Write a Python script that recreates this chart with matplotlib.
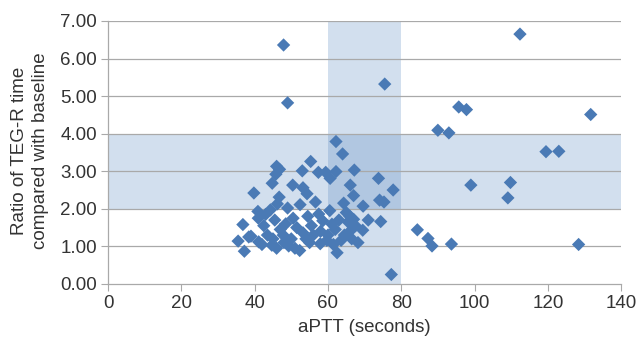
import matplotlib
matplotlib.use("Agg")
import matplotlib.pyplot as plt

plt.rcParams['font.family'] = ['Liberation Sans', 'DejaVu Sans']

aptt = [47.9, 49.0, 75.5, 112.4, 95.7, 97.8, 131.7, 90.0, 93.0, 119.5, 123.0, 99.0,
        109.8, 109.1, 84.4, 87.3, 88.4, 93.7, 128.4, 77.3,
        62.2, 64.0, 55.3, 46.0, 46.8, 53.0, 57.4, 59.4, 60.6, 62.2, 67.2, 73.8, 77.8,
        66.1, 44.8, 45.8, 39.8, 50.4, 53.2, 54.3, 46.7, 56.6, 74.1, 75.3, 64.3, 69.6,
        52.4, 49.0, 46.2, 67.0,
        60.5, 57.5, 44.3, 40.9, 74.4, 58.6, 61.1, 65.0, 66.0, 67.0, 65.5, 69.5, 66.1,
        63.6, 68.2, 62.5, 36.8, 39.0, 37.2, 41.1, 44.7, 49.3, 52.3, 57.9, 59.7, 53.2,
        47.0, 47.8, 42.5, 43.5, 35.5, 38.4, 41.0, 43.0, 45.5, 48.5, 50.5, 51.5, 54.5,
        55.5, 56.0, 58.0, 60.0, 62.0, 63.0, 64.5, 45.0, 50.0, 51.0, 55.0, 46.0, 42.0,
        48.0, 54.0, 61.5, 66.5, 67.5, 71.0]
ratio = [6.36, 4.82, 5.32, 6.65, 4.71, 4.64, 4.51, 4.09, 4.02, 3.52, 3.53, 2.63,
         2.70, 2.29, 1.44, 1.21, 1.01, 1.06, 1.05, 0.25,
         3.79, 3.46, 3.26, 3.13, 3.05, 3.01, 2.97, 2.97, 2.81, 2.99, 3.03, 2.81, 2.50,
         2.63, 2.68, 2.92, 2.42, 2.63, 2.56, 2.40, 2.31, 2.18, 2.23, 2.18, 2.15, 2.07,
         2.11, 2.02, 2.13, 2.35,
         1.95, 1.86, 1.97, 1.93, 1.66, 1.68, 1.59, 1.90, 1.80, 1.72, 1.65, 1.43, 1.41,
         1.16, 1.10, 0.83, 1.58, 1.27, 0.87, 1.12, 1.03, 1.01, 0.89, 1.07, 1.16, 1.36,
         1.45, 1.30, 1.55, 1.30, 1.14, 1.25, 1.75, 1.85, 1.70, 1.60, 1.75, 1.50, 1.80,
         1.55, 1.30, 1.40, 1.30, 1.45, 1.70, 1.30, 1.20, 1.20, 0.95, 1.10, 0.95, 1.05,
         1.10, 1.20, 1.05, 1.20, 1.55, 1.70]

x_ticks = [0, 20, 40, 60, 80, 100, 120, 140]
y_ticks = [0, 1, 2, 3, 4, 5, 6, 7]
band_y = (2, 4)
band_x = (60, 80)

fig = plt.figure(figsize=(6.41, 3.38), dpi=100)
ax = fig.add_axes([0.1685, 0.160, 0.8005, 0.778])

ax.axhspan(band_y[0], band_y[1], color='#4f81bd', alpha=0.25, lw=0, zorder=0)
ax.axvspan(band_x[0], band_x[1], color='#4f81bd', alpha=0.25, lw=0, zorder=0)

for yv in y_ticks[1:]:
    ax.axhline(yv, color='#a9a9a9', lw=0.9, zorder=1)

ax.scatter(aptt, ratio, marker='D', s=46, color='#4a7ab5', edgecolors='none', zorder=3)

ax.set_xlim(0, 140)
ax.set_ylim(0, 7)
ax.set_xticks(x_ticks)
ax.set_yticks(y_ticks)
ax.set_yticklabels([f"{v:.2f}" for v in y_ticks])

for s in ['top', 'right']:
    ax.spines[s].set_visible(False)
for s in ['left', 'bottom']:
    ax.spines[s].set_color('#a9a9a9')
    ax.spines[s].set_linewidth(0.9)

ax.tick_params(axis='both', direction='out', length=5, color='#a9a9a9',
               labelsize=13.5, labelcolor='#333333', pad=3)

ax.set_xlabel('aPTT (seconds)', fontsize=13.5, color='#333333', labelpad=5)
fig.text(30 / 641, 0.553, 'Ratio of TEG-R time\ncompared with baseline',
         fontsize=13.5, color='#333333', rotation=90, ha='center', va='center',
         multialignment='center', linespacing=1.3)

fig.savefig('out.png', dpi=100)
